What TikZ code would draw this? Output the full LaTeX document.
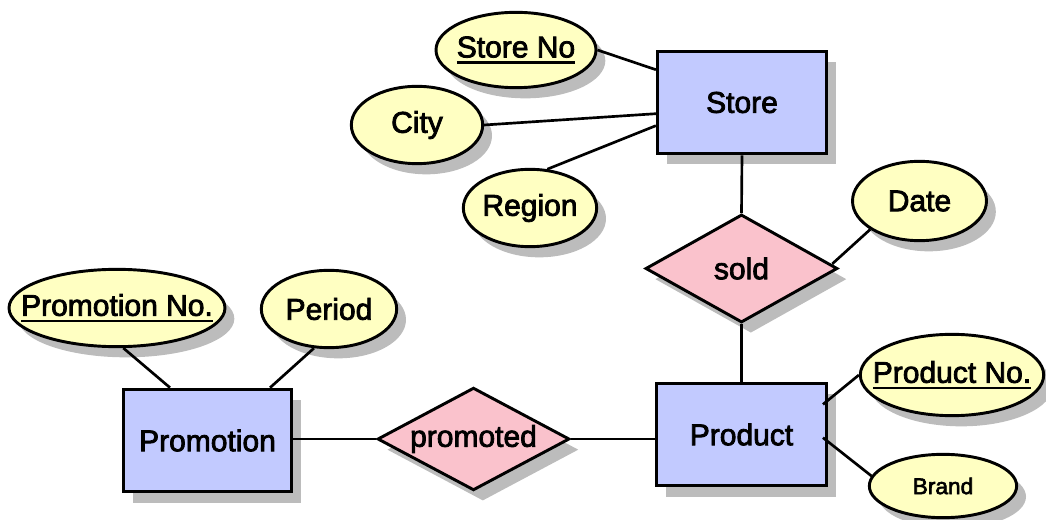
\documentclass[tikz,border=0pt]{standalone}
\usepackage{fontspec}
\newfontfamily\erfont{Liberation Sans}[FakeBold=2.6]
\usetikzlibrary{shapes.geometric,shadows,calc}

\definecolor{attrfill}{RGB}{255,255,194}
\definecolor{entfill}{RGB}{194,202,255}
\definecolor{relfill}{RGB}{250,194,204}
\definecolor{shadegray}{RGB}{188,188,188}

% zero-width centred label, so the shape keeps its own minimum size
\newcommand{\ctext}[1]{\makebox[0pt]{#1}}
% thick underline for key attributes
\newcommand{\keyul}[1]{\setbox0=\hbox{#1}\rlap{\rule[-4.6pt]{\wd0}{1.8pt}}\box0}

\tikzset{
  er/.style={font=\erfont\fontsize{22.5}{26}\selectfont, draw=black,
             line width=2.2pt, inner sep=0pt},
  shadowed/.style={drop shadow={shadow xshift=7pt, shadow yshift=-8pt,
                   fill=shadegray, opacity=1}},
  entity/.style={er, shadowed, rectangle, fill=entfill},
  relation/.style={er, shadowed, diamond, fill=relfill},
  attribute/.style={er, shadowed, ellipse, fill=attrfill},
  link/.style={line width=2pt},
}

\begin{document}
\begin{tikzpicture}[x=0.75pt,y=-0.75pt]
\useasboundingbox (0,0) rectangle (1046,520);

% entities
\node[entity, minimum width=127pt, minimum height=77pt] (store) at (742,102.5) {\ctext{Store}};
\node[entity, minimum width=127.5pt, minimum height=77pt] (prod) at (741.5,434.5) {\ctext{Product}};
\node[entity, minimum width=126pt, minimum height=77pt] (promo) at (207.5,440.5) {\ctext{Promotion}};

% relationships
\node[relation, minimum width=144pt, minimum height=81pt] (sold) at (741.5,268.5) {\ctext{sold}};
\node[relation, minimum width=144pt, minimum height=77pt] (promoted) at (473.5,439) {\ctext{promoted}};

% attributes
\node[attribute, minimum width=120pt, minimum height=56.5pt] (sno) at (516,50) {\ctext{\keyul{Store No}}};
\node[attribute, minimum width=98.5pt, minimum height=58pt] (city) at (417,125) {\ctext{City}};
\node[attribute, minimum width=100pt, minimum height=58pt] (region) at (530,208) {\ctext{Region}};
\node[attribute, minimum width=100.5pt, minimum height=59.5pt] (date) at (919.5,201) {\ctext{Date}};
\node[attribute, minimum width=137.5pt, minimum height=61pt] (pno) at (952,375) {\ctext{\keyul{Product No.}}};
\node[attribute, minimum width=110.5pt, minimum height=47.5pt, font=\erfont\fontsize{17}{20}\selectfont] (brand) at (943,486) {\ctext{Brand}};
\node[attribute, minimum width=162pt, minimum height=58pt] (prno) at (117,308) {\ctext{\keyul{Promotion No.}}};
\node[attribute, minimum width=101.5pt, minimum height=58pt] (period) at (329,309) {\ctext{Period}};

% connectors
\draw[link] (sno.east) -- ([yshift=-15pt]store.north west);
\draw[link] (city.east) -- ([yshift=-48pt]store.north west);
\draw[link] (region.66) -- ([yshift=-57pt]store.north west);
\draw[link] (store.south) -- (sold.north);
\draw[link] (date.210) -- ([xshift=-5pt,yshift=3.5pt]sold.east);
\draw[link] (sold.south) -- (prod.north);
\draw[link] (pno.west) -- ([xshift=-3.75pt,yshift=-17pt]prod.north east);
\draw[link] (brand.172) -- ([xshift=-3.75pt,yshift=-42pt]prod.north east);
\draw[link] (promoted.east) -- (promoted.east -| prod.west);
\draw[link] (promo.east |- promoted.west) -- (promoted.west);
\draw[link] (prno.-81) -- ([xshift=36pt]promo.north west);
\draw[link] (period.249) -- ([xshift=111pt]promo.north west);
\end{tikzpicture}
\end{document}
